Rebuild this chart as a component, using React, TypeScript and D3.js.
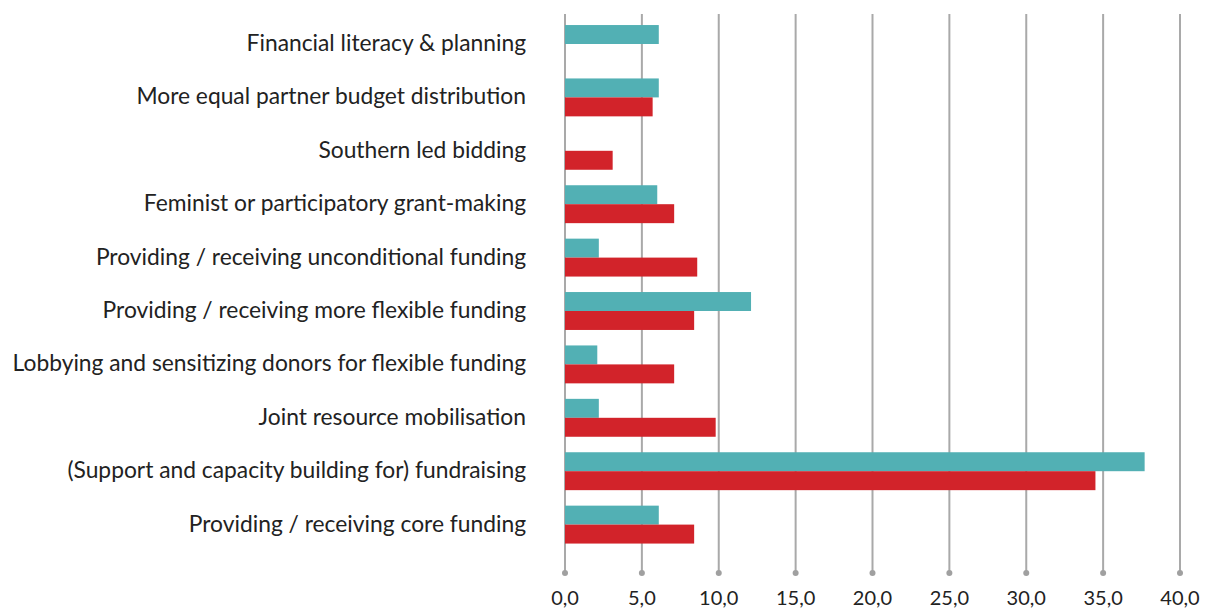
import React from "react";
import * as d3 from "d3";

const categories = [
  "Financial literacy & planning",
  "More equal partner budget distribution",
  "Southern led bidding",
  "Feminist or participatory grant-making",
  "Providing / receiving unconditional funding",
  "Providing / receiving more flexible funding",
  "Lobbying and sensitizing donors for flexible funding",
  "Joint resource mobilisation",
  "(Support and capacity building for) fundraising",
  "Providing / receiving core funding",
];
const tealValues = [6.1, 6.1, 0, 6.0, 2.2, 12.1, 2.1, 2.2, 37.7, 6.1];
const redValues = [0, 5.7, 3.1, 7.1, 8.6, 8.4, 7.1, 9.8, 34.5, 8.4];
const xTicks = [0, 5, 10, 15, 20, 25, 30, 35, 40];

const W = 1216;
const H = 610;
const TEAL = "#52b0b4";
const RED = "#d2232a";
const FONT = "Lato, 'Open Sans', sans-serif";

export default function App() {
  const x = d3.scaleLinear().domain([0, 40]).range([565, 1180]);
  const y = d3.scaleBand<string>().domain(categories).range([17.3, 551.3]).paddingInner(0.29).paddingOuter(0.145);
  const bw = y.bandwidth() / 2;
  const fmt = (v: number) => d3.format(".1f")(v).replace(".", ",");
  return (
    <svg width={W} height={H} style={{ position: "absolute", left: 0, top: 0 }}>
      <rect width={W} height={H} fill="#fff" />
      {xTicks.map((t) => (
        <g key={t}>
          <line x1={x(t)} x2={x(t)} y1={14} y2={573} stroke="#a9a9a9" strokeWidth={2} />
          <circle cx={x(t)} cy={573} r={3} fill="#a0a0a0" />
          <text x={x(t)} y={605} textAnchor="middle" fontFamily={FONT} fontSize={20} fill="#222">
            {fmt(t)}
          </text>
        </g>
      ))}
      {categories.map((c, i) => {
        const y0 = y(c)!;
        return (
          <g key={c}>
            <rect x={x(0)} y={y0} width={x(tealValues[i]) - x(0)} height={bw} fill={TEAL} />
            <rect x={x(0)} y={y0 + bw} width={x(redValues[i]) - x(0)} height={bw} fill={RED} />
            <text x={526} y={y0 + bw - 1} dy="0.35em" textAnchor="end" fontFamily={FONT} fontSize={22.8} fill="#222">
              {c}
            </text>
          </g>
        );
      })}
    </svg>
  );
}
